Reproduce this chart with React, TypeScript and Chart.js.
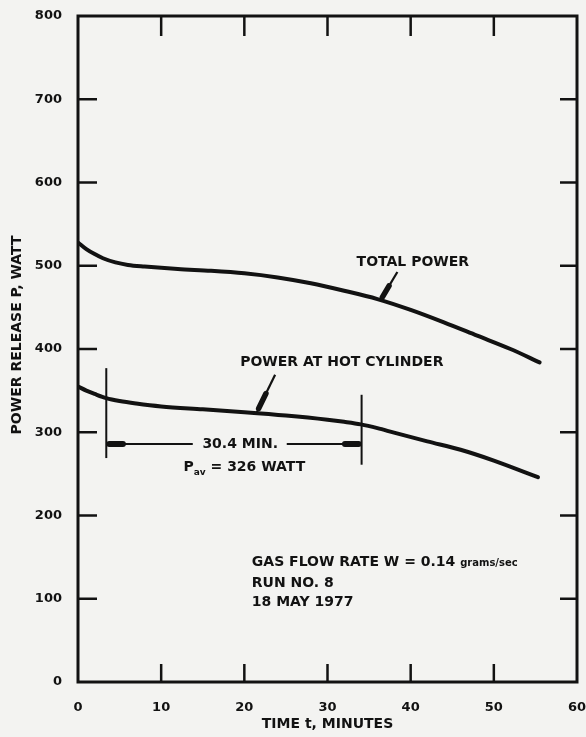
import React, { useEffect, useRef } from "react";
import { Chart, registerables } from "chart.js";

Chart.register(...registerables);

// ---- data ----
const timeTotal = [0, 1, 2, 3, 4.5, 6, 8, 12, 16, 20, 24, 28, 32, 36, 40, 44, 48, 52, 55.5];
const totalPower = [528, 520, 514, 509, 504, 501, 499, 496, 494, 491, 486, 479, 470, 460, 447, 432, 416, 400, 384];

const timeHot = [0, 1, 2, 3.4, 5, 7, 10, 15, 20, 25, 30, 32, 34, 36, 38, 42, 46, 50, 55.3];
const hotPower = [355, 350, 346, 341, 337.5, 334.5, 331, 327.5, 324, 320, 315, 312.5, 309.5, 305, 299.5, 289, 279, 266, 246];

const xTickValues = [0, 10, 20, 30, 40, 50, 60];
const yTickValues = [0, 100, 200, 300, 400, 500, 600, 700, 800];

const averagingStart = 3.4;
const averagingEnd = 34.1;
const averagePowerText = "326 WATT";
const averagingText = "30.4 MIN.";
const infoLines = ["GAS FLOW RATE W = 0.14 ", "RUN NO. 8", "18 MAY 1977"];

const INK = "#121212";
const BG = "#f3f3f1";
const FONT = "'DejaVu Sans', sans-serif";

function line(ctx: CanvasRenderingContext2D, x1: number, y1: number, x2: number, y2: number) {
  ctx.beginPath();
  ctx.moveTo(x1, y1);
  ctx.lineTo(x2, y2);
  ctx.stroke();
}

const framePlugin = {
  id: "frameAndNotes",
  afterDatasetsDraw(chart: any) {
    const { ctx, chartArea: a, scales } = chart;
    const xs = scales.x;
    const ys = scales.y;
    const X = (v: number) => xs.getPixelForValue(v);
    const Y = (v: number) => ys.getPixelForValue(v);
    ctx.save();
    ctx.strokeStyle = INK;
    ctx.fillStyle = INK;

    // frame
    ctx.lineWidth = 3;
    ctx.lineJoin = "miter";
    ctx.strokeRect(a.left, a.top, a.right - a.left, a.bottom - a.top);

    // inner tick marks
    ctx.lineWidth = 2.5;
    for (const v of xTickValues.slice(1, -1)) {
      const px = X(v);
      line(ctx, px, a.top, px, a.top + 20);
      line(ctx, px, a.bottom, px, a.bottom - 18);
    }
    for (const v of yTickValues.slice(1, -1)) {
      const py = Y(v);
      line(ctx, a.left, py, a.left + 19, py);
      line(ctx, a.right, py, a.right - 17, py);
    }

    // averaging interval markers
    ctx.lineWidth = 2;
    line(ctx, X(averagingStart), Y(377), X(averagingStart), Y(269));
    line(ctx, X(averagingEnd), Y(345), X(averagingEnd), Y(261));
    const dimY = Y(286);
    line(ctx, X(averagingStart), dimY, X(13.8), dimY);
    line(ctx, X(25.1), dimY, X(averagingEnd), dimY);
    ctx.lineWidth = 6;
    ctx.lineCap = "round";
    line(ctx, X(averagingStart) + 3, dimY, X(5.4), dimY);
    line(ctx, X(32.1), dimY, X(averagingEnd) - 3, dimY);

    // label arrows
    ctx.lineCap = "butt";
    const arrow = (t1: number, v1: number, t2: number, v2: number) => {
      const x1 = X(t1), y1 = Y(v1), x2 = X(t2), y2 = Y(v2);
      ctx.lineWidth = 2.2;
      line(ctx, x1, y1, x2, y2);
      ctx.lineWidth = 5.5;
      ctx.lineCap = "round";
      line(ctx, x1 + (x2 - x1) * 0.5, y1 + (y2 - y1) * 0.5, x1 + (x2 - x1) * 0.9, y1 + (y2 - y1) * 0.9);
      ctx.lineCap = "butt";
    };
    arrow(38.4, 492.5, 36.4, 459);
    arrow(23.7, 369, 21.5, 324);

    // texts
    ctx.textBaseline = "middle";
    ctx.font = `bold 14px ${FONT}`;
    ctx.textAlign = "left";
    ctx.fillText("TOTAL POWER", X(33.5), Y(504.5));
    ctx.fillText("POWER AT HOT CYLINDER", X(19.5), Y(384));

    ctx.textAlign = "center";
    ctx.fillText(averagingText, X(19.5), dimY);

    // P_av = 326 WATT
    const pY = Y(258);
    const rest = " = " + averagePowerText;
    ctx.font = `bold 14px ${FONT}`;
    const wP = ctx.measureText("P").width;
    const wRest = ctx.measureText(rest).width;
    ctx.font = `bold 9px ${FONT}`;
    const wSub = ctx.measureText("av").width;
    const total = wP + wSub + wRest;
    let sx = X(20) - total / 2;
    ctx.textAlign = "left";
    ctx.font = `bold 14px ${FONT}`;
    ctx.fillText("P", sx, pY);
    sx += wP;
    ctx.font = `bold 9px ${FONT}`;
    ctx.fillText("av", sx, pY + 5);
    sx += wSub;
    ctx.font = `bold 14px ${FONT}`;
    ctx.fillText(rest, sx, pY);

    // run info
    const ix = X(20.9);
    ctx.font = `bold 14px ${FONT}`;
    ctx.fillText(infoLines[0], ix, Y(144));
    const w0 = ctx.measureText(infoLines[0]).width;
    ctx.font = `bold 10px ${FONT}`;
    ctx.fillText("grams/sec", ix + w0, Y(144) + 1);
    ctx.font = `bold 14px ${FONT}`;
    ctx.fillText(infoLines[1], ix, Y(119));
    ctx.fillText(infoLines[2], ix, Y(96));

    // y axis title
    ctx.save();
    ctx.translate(17, (a.top + a.bottom) / 2 - 14);
    ctx.rotate(-Math.PI / 2);
    ctx.textAlign = "center";
    ctx.font = `bold 14px ${FONT}`;
    ctx.fillText("POWER RELEASE P, WATT", 0, 0);
    ctx.restore();

    ctx.restore();
  },
};

export default function App() {
  const ref = useRef<HTMLCanvasElement | null>(null);

  useEffect(() => {
    document.body.style.margin = "0";
    document.body.style.background = BG;
    const canvas = ref.current;
    if (!canvas) return;
    const chart = new Chart(canvas, {
      type: "line",
      data: {
        datasets: [
          {
            label: "Total power",
            data: timeTotal.map((t, i) => ({ x: t, y: totalPower[i] })),
            borderColor: INK,
            borderWidth: 4,
            pointRadius: 0,
            cubicInterpolationMode: "monotone",
            borderCapStyle: "round",
            borderJoinStyle: "round",
            fill: false,
          },
          {
            label: "Power at hot cylinder",
            data: timeHot.map((t, i) => ({ x: t, y: hotPower[i] })),
            borderColor: INK,
            borderWidth: 4,
            pointRadius: 0,
            cubicInterpolationMode: "monotone",
            borderCapStyle: "round",
            borderJoinStyle: "round",
            fill: false,
          },
        ],
      },
      options: {
        animation: false,
        responsive: false,
        maintainAspectRatio: false,
        layout: { padding: { left: 0, right: 9, top: 16, bottom: 0 } },
        plugins: {
          legend: { display: false },
          tooltip: { enabled: false },
          title: { display: false },
        },
        scales: {
          x: {
            type: "linear",
            min: 0,
            max: 60,
            grid: { display: false },
            border: { display: false },
            afterBuildTicks: (s: any) => {
              s.ticks = xTickValues.map((v) => ({ value: v }));
            },
            afterFit: (s: any) => {
              s.height = 55;
              s.paddingLeft = 0;
              s.paddingRight = 0;
            },
            ticks: {
              autoSkip: false,
              maxRotation: 0,
              padding: 10,
              color: INK,
              font: { family: FONT, weight: "bold", size: 13 },
            },
            title: {
              display: true,
              text: "TIME t, MINUTES",
              color: INK,
              font: { family: FONT, weight: "bold", size: 14 },
              padding: { top: 0, bottom: 4 },
            },
          },
          y: {
            type: "linear",
            min: 0,
            max: 800,
            grid: { display: false },
            border: { display: false },
            afterBuildTicks: (s: any) => {
              s.ticks = yTickValues.map((v) => ({ value: v }));
            },
            afterFit: (s: any) => {
              s.width = 78;
              s.paddingTop = 0;
              s.paddingBottom = 0;
            },
            ticks: {
              autoSkip: false,
              padding: 8,
              color: INK,
              font: { family: FONT, weight: "bold", size: 13 },
            },
          },
        },
      },
      plugins: [framePlugin],
    });
    return () => chart.destroy();
  }, []);

  return (
    <div style={{ width: 586, height: 737, background: BG }}>
      <canvas ref={ref} width={586} height={737} style={{ display: "block", width: 586, height: 737 }} />
    </div>
  );
}
